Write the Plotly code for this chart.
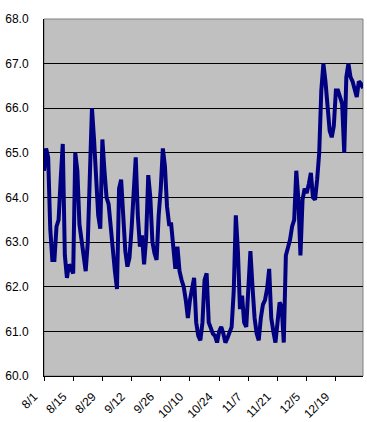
import pandas as pd
import plotly.graph_objects as go

start_date = "2006-08-01"
values = [
    64.6, 65.1, 64.9, 63.3, 62.6, 62.6, 63.35, 63.5, 64.4, 65.2,
    62.7, 62.2, 62.5, 62.4, 62.3, 65.0, 64.6, 63.4, 63.0, 62.75,
    62.35, 63.0, 64.3, 66.0, 65.3, 64.4, 63.6, 63.3, 65.3, 64.6,
    64.0, 63.85, 63.3, 62.65, 62.35, 61.95, 64.2, 64.4, 63.5, 62.8,
    62.45, 62.65, 63.3, 64.2, 64.9, 63.6, 62.9, 63.15, 62.5, 63.1,
    64.5, 64.0, 63.0, 62.75, 62.6, 63.6, 64.2, 65.1, 64.7, 63.8,
    63.4, 63.4, 62.9, 62.4, 62.9, 62.35, 62.15, 62.0, 61.7, 61.3,
    61.7, 62.0, 62.2, 61.2, 60.9, 60.8, 61.2, 62.15, 62.3, 61.2,
    61.05, 60.95, 60.9, 60.75, 61.0, 61.1, 60.95, 60.75, 60.85, 60.95,
    61.1, 61.9, 63.6, 62.8, 61.5, 61.8, 61.2, 61.1, 61.8, 62.8,
    62.0, 61.3, 60.95, 60.8, 61.3, 61.6, 61.7, 61.95, 62.4, 61.3,
    61.0, 60.75, 61.2, 61.65, 61.55, 60.75, 62.7, 62.85, 63.05, 63.35,
    63.5, 64.6, 63.95, 62.7, 63.95, 64.2, 64.1, 64.3, 64.55, 64.0,
    63.95, 64.4, 65.0, 66.4, 67.0, 66.6, 66.1, 65.5, 65.35, 65.6,
    66.4, 66.4, 66.25, 66.1, 65.0, 66.7, 67.0, 66.7, 66.6, 66.4,
    66.25, 66.6, 66.55, 66.45,
]
dates = pd.date_range(start_date, periods=len(values), freq="D")

tick_dates = ["2006-08-01", "2006-08-15", "2006-08-29", "2006-09-12", "2006-09-26",
              "2006-10-10", "2006-10-24", "2006-11-07", "2006-11-21", "2006-12-05",
              "2006-12-19"]
tick_labels = ["8/1", "8/15", "8/29", "9/12", "9/26", "10/10", "10/24", "11/7",
               "11/21", "12/5", "12/19"]
y_ticks = [60, 61, 62, 63, 64, 65, 66, 67, 68]
y_labels = [f"{v:.1f}" for v in y_ticks]

fig = go.Figure()
fig.add_trace(go.Scatter(
    x=dates, y=values, mode="lines",
    line=dict(color="#000080", width=4),
    showlegend=False, hoverinfo="skip",
))

fig.update_layout(
    width=367, height=422,
    margin=dict(l=44, r=4, t=19, b=46, autoexpand=False),
    paper_bgcolor="white",
    plot_bgcolor="#C0C0C0",
    font=dict(family="Liberation Sans, Arial, sans-serif", size=12, color="black"),
    shapes=[dict(type="rect", xref="paper", yref="paper", x0=0, x1=1, y0=0, y1=1,
                 line=dict(color="#808080", width=1), layer="below")],
)
fig.update_xaxes(
    type="date",
    range=["2006-08-01", "2007-01-01"],
    tickvals=tick_dates, ticktext=tick_labels,
    tickangle=-45,
    showgrid=False, zeroline=False,
    showline=True, linecolor="black", linewidth=1,
    ticks="outside", ticklen=4, tickcolor="black", tickwidth=1,
    ticklabelstandoff=4,
    ticklabelshift=-10,
    tickfont=dict(size=12),
    automargin=False,
)
fig.update_yaxes(
    range=[60, 68],
    tickvals=y_ticks, ticktext=y_labels,
    showgrid=True, gridcolor="black", gridwidth=1,
    zeroline=False,
    showline=True, linecolor="black", linewidth=1,
    ticks="outside", ticklen=12, tickcolor="rgba(0,0,0,0)",
    tickfont=dict(size=12),
    automargin=False,
)

fig.write_html("out.html", config={"displayModeBar": False},
               post_script="document.body.style.margin='0';")
